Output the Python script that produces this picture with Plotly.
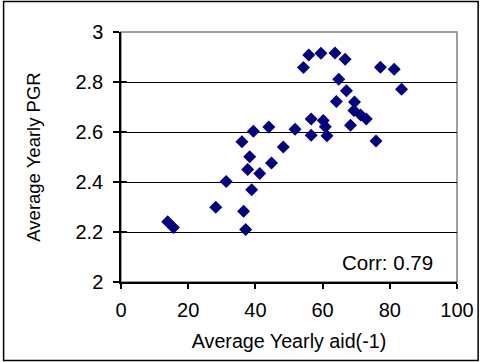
import plotly.graph_objects as go

aid = [13.9, 15.6, 28.2, 31.3, 36.0, 36.5, 37.1, 37.7, 38.3, 38.9, 39.4, 41.3, 44.0, 44.8,
       48.3, 51.8, 54.3, 55.9, 56.6, 56.6, 59.5, 60.2, 60.8, 61.3, 63.7, 64.1, 64.8, 66.7,
       67.1, 68.3, 69.5, 69.3, 71.3, 73.0, 75.9, 77.2, 81.3, 83.5]
pgr = [2.241, 2.218, 2.299, 2.402, 2.561, 2.283, 2.210, 2.450, 2.501, 2.369, 2.603, 2.434,
       2.620, 2.476, 2.540, 2.611, 2.858, 2.908, 2.652, 2.587, 2.915, 2.646, 2.621, 2.585,
       2.916, 2.722, 2.811, 2.891, 2.765, 2.627, 2.720, 2.686, 2.668, 2.652, 2.564, 2.859,
       2.851, 2.771]
x_ticks = [0, 20, 40, 60, 80, 100]
y_ticks = [2, 2.2, 2.4, 2.6, 2.8, 3]
y_labels = ["2", "2.2", "2.4", "2.6", "2.8", "3"]
corr_text = "Corr: 0.79"

W, H = 486, 362
L, R, T, B = 121, 23, 32, 80
pw, ph = W - L - R, H - T - B
font = "Arial, 'Liberation Sans', sans-serif"

fig = go.Figure()
fig.add_trace(go.Scatter(
    x=aid, y=pgr, mode="markers",
    marker=dict(symbol="diamond", size=10, color="#000080", line=dict(width=0)),
    showlegend=False, cliponaxis=False,
))
# empty trace to carry the inner half of the crossing y ticks
fig.add_trace(go.Scatter(x=[], y=[], yaxis="y2", showlegend=False, hoverinfo="skip"))

fig.update_layout(
    width=W, height=H,
    margin=dict(l=L, r=R, t=T, b=B),
    paper_bgcolor="white", plot_bgcolor="white",
    font=dict(family=font, size=20, color="black"),
    xaxis=dict(range=[0, 100], tickvals=x_ticks, ticks="outside", ticklen=5,
               tickcolor="black", tickwidth=1.5, showline=True, linecolor="black",
               linewidth=1.5, showgrid=False, zeroline=False, ticklabelstandoff=4,
               title=dict(text="Average Yearly aid(-1)", standoff=14,
                          font=dict(size=19.7)),
               tickfont=dict(size=20)),
    yaxis=dict(range=[2, 3], tickvals=y_ticks, ticktext=y_labels, ticks="outside",
               ticklen=6, tickcolor="black", tickwidth=1.5, showline=True,
               linecolor="black", linewidth=1.5, showgrid=True, gridcolor="black",
               gridwidth=1, zeroline=False, ticklabelstandoff=6,
               title=dict(text="Average Yearly PGR", standoff=30, font=dict(size=18.5)),
               tickfont=dict(size=20)),
    yaxis2=dict(range=[2, 3], tickvals=y_ticks, overlaying="y", side="left",
                ticks="inside", ticklen=6, tickcolor="black", tickwidth=1.5,
                showticklabels=False, showgrid=False, showline=False, zeroline=False),
    shapes=[
        dict(type="rect", xref="paper", yref="paper", x0=0, x1=1, y0=0, y1=1,
             line=dict(color="#808080", width=1.5), layer="below"),
        dict(type="rect", xref="paper", yref="paper",
             x0=(1.5 - L) / pw, x1=(W - 1.5 - L) / pw,
             y0=-(H - 1.5 - T - ph) / ph, y1=1 + (T - 1.5) / ph,
             line=dict(color="black", width=1.5)),
    ],
    annotations=[
        dict(x=93.5, y=2.08, xref="x", yref="y", text=corr_text, showarrow=False,
             xanchor="right", yanchor="middle", font=dict(size=20.5)),
    ],
)

fig.write_html("out.html")
